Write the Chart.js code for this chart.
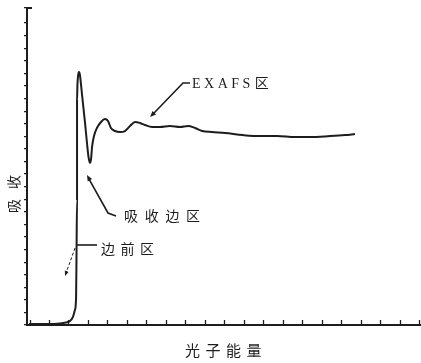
<!DOCTYPE html>
<html>
<head>
<meta charset="utf-8">
<script src="https://cdn.jsdelivr.net/npm/chart.js@4.4.1/dist/chart.umd.min.js"></script>
<style>
  html, body { margin: 0; padding: 0; background: #fff; }
  #wrap { width: 421px; height: 363px; }
</style>
</head>
<body>
<div id="wrap"><canvas id="xafs" width="421" height="363"></canvas></div>
<script>
// ─── Data (photon energy / absorption) ───
const energy = [
  -1.08, -0.26, 0.51, 0.82, 1.03, 1.18, 1.28, 1.34, 1.36, 1.39, 1.39, 1.39, 1.41, 1.44,
  1.49, 1.54, 1.59, 1.69, 1.80, 1.90, 1.98, 2.05, 2.11, 2.16, 2.26, 2.41, 2.62, 2.82,
  2.98, 3.13, 3.34, 3.60, 3.85, 4.11, 4.37, 4.62, 4.88, 5.24, 5.65, 6.16, 6.68, 7.09,
  7.45, 7.81, 8.32, 8.99, 9.91, 10.79, 11.66, 12.58, 13.35, 14.38, 15.15, 15.66
];
const absorption = [
  0.08, 0.08, 0.12, 0.20, 0.32, 0.64, 1.19, 2.15, 5.17, 9.94, 14.71, 17.89, 19.08, 19.79,
  20.11, 19.87, 19.16, 17.65, 16.06, 14.47, 13.35, 12.88, 13.20, 14.15, 15.02, 15.66, 16.14, 16.38,
  16.22, 15.66, 15.42, 15.34, 15.42, 15.82, 16.14, 16.06, 15.90, 15.74, 15.74, 15.82, 15.74, 15.82,
  15.66, 15.42, 15.34, 15.26, 15.10, 15.02, 15.02, 14.94, 14.94, 15.02, 15.10, 15.18
];

const xTitle = '光子能量';
const yTitle = '吸收';

// region labels and where their arrows point (data coords)
const regionLabels = ['EXAFS区', '吸收边区', '边前区'];
const arrowTipX = [5.14, 1.90, 1.39];
const arrowTipY = [16.53, 11.92, 6.36];

const ink = '#1d1d1d';
const cjk = "'Noto Sans CJK SC', sans-serif";
const serif = "'Liberation Serif', 'DejaVu Serif', serif";

// ─── Helpers ───
function spacedText(ctx, text, x, y, pitch) {
  [...text].forEach((ch, i) => ctx.fillText(ch, x + i * pitch, y));
}

function arrowHead(ctx, fromX, fromY, tipX, tipY, len = 6, half = 2.5) {
  const a = Math.atan2(tipY - fromY, tipX - fromX);
  ctx.beginPath();
  ctx.moveTo(tipX, tipY);
  ctx.lineTo(tipX - len * Math.cos(a) + half * Math.sin(a), tipY - len * Math.sin(a) - half * Math.cos(a));
  ctx.lineTo(tipX - len * Math.cos(a) - half * Math.sin(a), tipY - len * Math.sin(a) + half * Math.cos(a));
  ctx.closePath();
  ctx.fill();
}

// ─── Plugin: inside x ticks, titles, callouts ───
const sketchPlugin = {
  id: 'sketch',
  afterDatasetsDraw(chart) {
    const { ctx, chartArea, scales: { x, y } } = chart;
    ctx.save();
    ctx.strokeStyle = ink;
    ctx.fillStyle = ink;

    // x ticks pointing up into the plot
    ctx.lineWidth = 1.3;
    for (let v = Math.ceil(x.min); v <= x.max; v++) {
      const px = Math.round(x.getPixelForValue(v)) - 0.5;
      ctx.beginPath();
      ctx.moveTo(px, chartArea.bottom);
      ctx.lineTo(px, chartArea.bottom - 5);
      ctx.stroke();
    }

    // little hook at top of y axis
    ctx.lineWidth = 2;
    ctx.beginPath();
    ctx.moveTo(chartArea.left, chartArea.top);
    ctx.lineTo(chartArea.left + 5, chartArea.top);
    ctx.stroke();

    // axis titles
    ctx.textBaseline = 'middle';
    ctx.textAlign = 'left';
    ctx.font = `15px ${cjk}`;
    spacedText(ctx, xTitle, 185, 350, 20.5);

    ctx.save();
    ctx.translate(14, 194);
    ctx.rotate(-Math.PI / 2);
    ctx.textAlign = 'center';
    ctx.font = `14px ${cjk}`;
    ctx.fillText(yTitle[0], -12, 0);
    ctx.fillText(yTitle[1], 12, 0);
    ctx.restore();

    // EXAFS callout
    ctx.lineWidth = 1.6;
    let tx = x.getPixelForValue(arrowTipX[0]);
    let ty = y.getPixelForValue(arrowTipY[0]);
    ctx.beginPath();
    ctx.moveTo(190, 83);
    ctx.lineTo(183, 83);
    ctx.lineTo(tx + 3, ty - 3);
    ctx.stroke();
    arrowHead(ctx, 183, 83, tx, ty);
    ctx.font = `14px ${serif}`;
    let cx = 192;
    [...'EXAFS'].forEach(ch => {
      ctx.fillText(ch, cx, 84);
      cx += ctx.measureText(ch).width + 3.5;
    });
    ctx.font = `14px ${cjk}`;
    ctx.fillText(regionLabels[0].slice(-1), cx + 1, 83);

    // absorption edge callout
    tx = x.getPixelForValue(arrowTipX[1]);
    ty = y.getPixelForValue(arrowTipY[1]);
    ctx.beginPath();
    ctx.moveTo(116, 216);
    ctx.lineTo(108, 213);
    ctx.lineTo(tx + 1.5, ty + 3);
    ctx.stroke();
    arrowHead(ctx, 108, 213, tx, ty);
    spacedText(ctx, regionLabels[1], 124, 216, 20.7);

    // pre-edge callout
    tx = x.getPixelForValue(arrowTipX[2]);
    ty = y.getPixelForValue(arrowTipY[2]);
    ctx.beginPath();
    ctx.moveTo(tx, ty);
    ctx.lineTo(tx + 20, ty);
    ctx.stroke();
    ctx.lineWidth = 1;
    ctx.setLineDash([3, 2]);
    ctx.beginPath();
    ctx.moveTo(tx - 2, ty + 3);
    ctx.lineTo(tx - 11, ty + 28);
    ctx.stroke();
    ctx.setLineDash([]);
    arrowHead(ctx, tx - 2, ty + 3, tx - 12, ty + 31, 5, 2);
    spacedText(ctx, regionLabels[2], 101, 249, 19.5);

    ctx.restore();
  },
};

new Chart(document.getElementById('xafs'), {
  type: 'line',
  data: {
    datasets: [{
      data: energy.map((e, i) => ({ x: e, y: absorption[i] })),
      borderColor: ink,
      borderWidth: 2,
      pointRadius: 0,
      cubicInterpolationMode: 'monotone',
      fill: false,
    }],
  },
  options: {
    responsive: false,
    animation: false,
    devicePixelRatio: 1,
    layout: { padding: { top: 8, right: 1, left: 0, bottom: 0 } },
    plugins: {
      legend: { display: false },
      tooltip: { enabled: false },
    },
    scales: {
      x: {
        type: 'linear',
        min: -1.18,
        max: 19,
        ticks: { display: false, stepSize: 1 },
        grid: { display: false, drawTicks: false },
        border: { display: true, color: ink, width: 2 },
        afterFit: s => { s.height = 38; },
      },
      y: {
        type: 'linear',
        min: 0,
        max: 25.2,
        ticks: { display: false, stepSize: 1 },
        grid: { display: true, drawOnChartArea: false, drawTicks: true, tickLength: 3, color: ink, lineWidth: 1.2 },
        border: { display: true, color: ink, width: 2 },
        afterFit: s => { s.width = 27; },
      },
    },
  },
  plugins: [sketchPlugin],
});
</script>
</body>
</html>
